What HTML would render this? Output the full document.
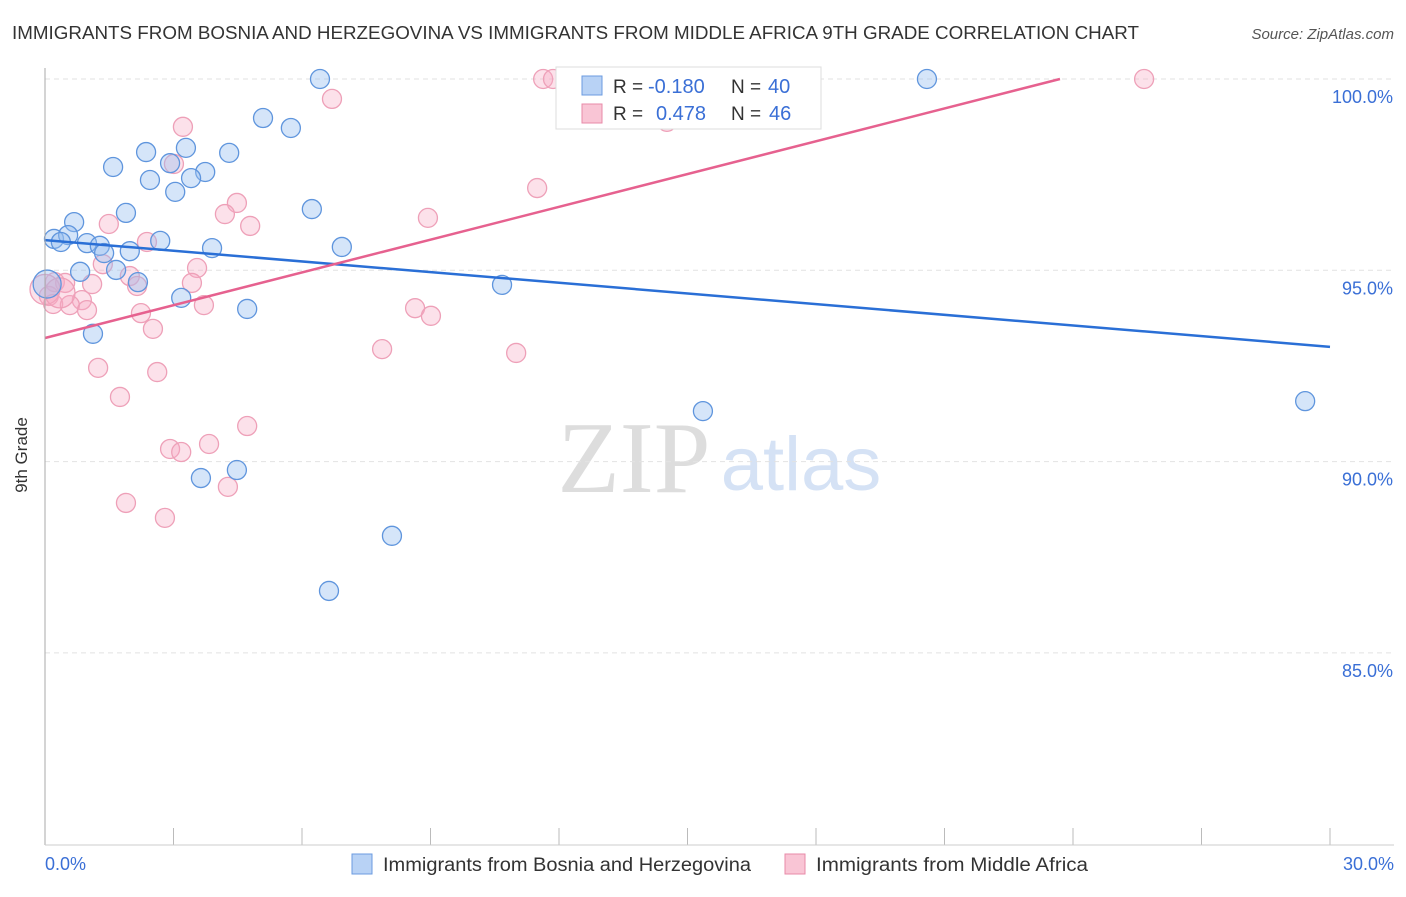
<!DOCTYPE html>
<html><head><meta charset="utf-8"><style>
body{margin:0;background:#fff;font-family:"Liberation Sans",sans-serif}
svg text{font-family:"Liberation Sans",sans-serif}
</style></head><body>
<svg id="c" width="1406" height="892" xmlns="http://www.w3.org/2000/svg">
<text x="12" y="39" font-size="18" fill="#333" textLength="1127" lengthAdjust="spacingAndGlyphs">IMMIGRANTS FROM BOSNIA AND HERZEGOVINA VS IMMIGRANTS FROM MIDDLE AFRICA 9TH GRADE CORRELATION CHART</text>
<text x="1394" y="39" font-size="15" fill="#555" text-anchor="end" font-style="italic">Source: ZipAtlas.com</text>
<text x="27" y="455" font-size="17" fill="#333" text-anchor="middle" transform="rotate(-90 27 455)">9th Grade</text>
<text x="634" y="492" font-size="102" fill="#ddd" text-anchor="middle" style="font-family:'Liberation Serif',serif">ZIP</text>
<text x="801" y="490" font-size="76" fill="#d5e2f5" text-anchor="middle">atlas</text>
<g id="grid"></g><g id="pts"></g><g id="lines"></g>
<line x1="45" y1="68" x2="45" y2="845" stroke="#aaa"/>
<line x1="45" y1="845" x2="1394" y2="845" stroke="#ccc"/>
<text x="45" y="870" font-size="18" fill="#3a6fd6">0.0%</text>
<text x="1394" y="870" font-size="18" fill="#3a6fd6" text-anchor="end">30.0%</text>
<g>
<rect x="556" y="67" width="265" height="62" fill="#fff" stroke="#ddd"/>
<rect x="582" y="76" width="20" height="19" fill="#b8d2f5" stroke="#6b9be0"/>
<rect x="582" y="104" width="20" height="19" fill="#f9c5d5" stroke="#e88aa8"/>
<text x="613" y="93" font-size="19" fill="#333">R =</text>
<text x="648" y="93" font-size="20" fill="#3a6fd6">-0.180</text>
<text x="731" y="93" font-size="19" fill="#333">N =</text>
<text x="768" y="93" font-size="20" fill="#3a6fd6">40</text>
<text x="613" y="120" font-size="19" fill="#333">R =</text>
<text x="656" y="120" font-size="20" fill="#3a6fd6">0.478</text>
<text x="731" y="120" font-size="19" fill="#333">N =</text>
<text x="769" y="120" font-size="20" fill="#3a6fd6">46</text>
</g>
<g>
<rect x="352" y="854" width="20" height="20" fill="#b8d2f5" stroke="#6b9be0"/>
<text x="383" y="871" font-size="19" fill="#333" textLength="368" lengthAdjust="spacingAndGlyphs">Immigrants from Bosnia and Herzegovina</text>
<rect x="785" y="854" width="20" height="20" fill="#f9c5d5" stroke="#e88aa8"/>
<text x="816" y="871" font-size="19" fill="#333" textLength="272" lengthAdjust="spacingAndGlyphs">Immigrants from Middle Africa</text>
</g>
</svg>
<script>
const yTicks=[100,95,90,85];
const xTicks=[0,3,6,9,12,15,18,21,24,27,30];
const blueX=[6.42,20.59,5.09,5.74,2.36,3.29,4.30,1.59,2.92,3.74,2.45,3.41,3.04,6.23,1.89,0.68,0.21,0.54,0.37,0.98,1.28,1.38,1.98,2.69,3.90,6.93,0.82,1.66,2.17,0.05,10.67,3.18,4.72,1.12,15.36,29.42,4.48,3.64,8.10,6.63];
const blueY=[100,100,98.98,98.72,98.09,98.20,98.07,97.70,97.80,97.57,97.36,97.41,97.05,96.60,96.50,96.26,95.82,95.92,95.74,95.71,95.64,95.45,95.50,95.77,95.58,95.61,94.96,95.01,94.69,94.64,94.62,94.28,93.99,93.34,91.32,91.58,89.78,89.57,88.06,86.62];
const pinkX=[11.63,11.86,25.66,6.70,3.22,3.01,11.49,4.48,4.20,8.94,1.49,4.79,2.38,1.35,3.55,1.98,0.23,0.47,1.10,3.43,2.15,0.09,0.86,0.19,0.58,3.71,0.98,8.64,9.01,2.24,2.52,7.87,11.00,1.24,2.62,1.75,4.72,3.83,2.92,3.18,4.27,1.89,2.80,14.52,0.0,0.35];
const pinkY=[100,100,100,99.48,98.75,97.78,97.15,96.76,96.47,96.37,96.21,96.16,95.74,95.16,95.06,94.85,94.69,94.67,94.64,94.67,94.59,94.33,94.22,94.12,94.09,94.09,93.96,94.01,93.81,93.88,93.47,92.94,92.84,92.45,92.34,91.69,90.93,90.46,90.33,90.25,89.34,88.92,88.53,98.88,94.5,94.41];
const blueLine=[95.79,-0.093];
const pinkLine=[93.23,0.2857];
const X=v=>45+v/30*1285, Y=v=>79+(100-v)/5*191.3;
const NS='http://www.w3.org/2000/svg';
function mk(t,a,p){const e=document.createElementNS(NS,t);for(const k in a)e.setAttribute(k,a[k]);p.appendChild(e);return e;}
const grid=document.getElementById('grid');
yTicks.forEach(v=>{
 const l=mk('line',{x1:45,x2:1394,y1:Y(v),y2:Y(v),stroke:'#e2e2e2','stroke-dasharray':'5,4'},grid);
 
 
 const t=mk('text',{x:1393,y:Y(v)+24,'font-size':18,fill:'#3a6fd6','text-anchor':'end'},grid);
 t.textContent=v.toFixed(1)+'%';
 
 
});
xTicks.forEach(v=>{
 const l=mk('line',{x1:X(v),x2:X(v),y1:828,y2:845,stroke:'#bbb'},grid);
 
 
});
const pts=document.getElementById('pts');
pinkX.forEach((x,i)=>{
 const c=mk('circle',{cx:X(x),cy:Y(pinkY[i]),r:(i>=44)?15:9.5,fill:'rgba(246,170,195,0.35)',stroke:'#eea0b8','stroke-width':1.3},pts);
 
 
});
blueX.forEach((x,i)=>{
 const c=mk('circle',{cx:X(x),cy:Y(blueY[i]),r:(i==29)?14:9.5,fill:'rgba(150,190,240,0.4)',stroke:'#5f95dd','stroke-width':1.3},pts);
 
 
});
const lines=document.getElementById('lines');
const bl=mk('line',{x1:X(0),y1:Y(blueLine[0]),x2:X(30),y2:Y(blueLine[0]+30*blueLine[1]),stroke:'#2a6fd6','stroke-width':2.5},lines);


const xe=(100-pinkLine[0])/pinkLine[1];
const pl=mk('line',{x1:X(0),y1:Y(pinkLine[0]),x2:X(xe),y2:Y(100),stroke:'#e6618f','stroke-width':2.5},lines);


</script>
</body></html>
